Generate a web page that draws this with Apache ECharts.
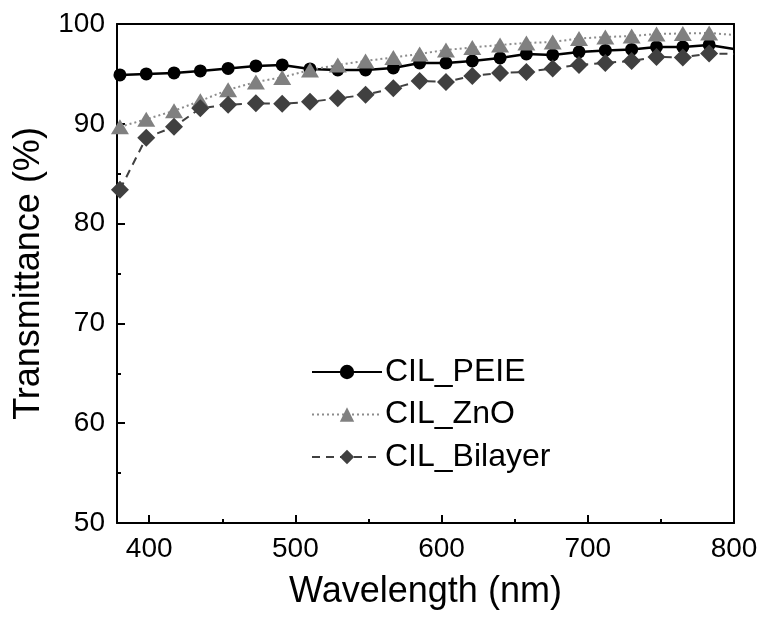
<!DOCTYPE html>
<html>
<head>
<meta charset="utf-8">
<script src="https://cdn.jsdelivr.net/npm/echarts@6/dist/echarts.min.js"></script>
<style>
  html, body { margin: 0; padding: 0; background: #fff; }
  #chart { width: 763px; height: 619px; }
</style>
</head>
<body>
<div id="chart"></div>
<script>
// wavelength of each sample (nm), last one drawn without a marker
var wavelength = [380, 398, 417, 435, 454, 473, 491, 510, 529, 548, 567, 585,
                  603, 621, 640, 658, 676, 694, 712, 730, 747, 765, 783, 800];
var peie    = [94.9, 95.0, 95.1, 95.3, 95.55, 95.8, 95.9, 95.5, 95.4, 95.4, 95.6, 96.1,
               96.1, 96.3, 96.6, 97.0, 96.9, 97.2, 97.35, 97.45, 97.7, 97.7, 97.9, 97.5];
var zno     = [89.7, 90.45, 91.3, 92.3, 93.4, 94.2, 94.65, 95.4, 95.9, 96.3, 96.65, 97.0,
               97.4, 97.65, 97.9, 98.1, 98.2, 98.55, 98.7, 98.8, 99.0, 99.05, 99.1, 98.9];
var bilayer = [83.4, 88.6, 89.7, 91.55, 91.9, 92.05, 92.0, 92.2, 92.55, 92.9, 93.55, 94.3,
               94.2, 94.8, 95.1, 95.2, 95.55, 95.9, 96.1, 96.3, 96.7, 96.65, 97.05, 97.0];
var noMarkerAt = [800];

var xMajor = [400, 500, 600, 700, 800];
var xMinor = [450, 550, 650, 750];

var font = "'Liberation Sans', Arial, sans-serif";

function pairs(ys) {
  var out = [];
  for (var i = 0; i < wavelength.length; i++) {
    var p = { value: [wavelength[i], ys[i]] };
    if (noMarkerAt.indexOf(wavelength[i]) >= 0) p.symbol = 'none';
    out.push(p);
  }
  return out;
}

var myChart = echarts.init(document.getElementById('chart'));

var option = {
  backgroundColor: '#fff',
  animation: false,
  grid: { left: 117, right: 29, top: 24, bottom: 96 },
  legend: {
    left: 306,
    top: 351,
    orient: 'vertical',
    itemWidth: 70,
    itemHeight: 18,
    itemGap: 10.5,
    textStyle: { fontFamily: font, fontSize: 32, color: '#000', padding: [0, 0, 0, -2] },
    data: ['CIL_PEIE', 'CIL_ZnO', 'CIL_Bilayer']
  },
  xAxis: [
    {
      type: 'value', min: 378, max: 800, position: 'bottom',
      name: 'Wavelength (nm)', nameLocation: 'middle', nameGap: 51,
      nameTextStyle: { fontFamily: font, fontSize: 36, color: '#000' },
      axisLine: { lineStyle: { color: '#000', width: 2 } },
      axisTick: { inside: true, length: 8, lineStyle: { color: '#000', width: 2 }, customValues: xMajor },
      axisLabel: { fontFamily: font, fontSize: 28, color: '#000', margin: 12, customValues: xMajor },
      splitLine: { show: false }
    },
    {
      type: 'value', min: 378, max: 800, position: 'bottom',
      axisLine: { show: false },
      axisTick: { inside: true, length: 4, lineStyle: { color: '#000', width: 2 }, customValues: xMinor },
      axisLabel: { show: false },
      splitLine: { show: false }
    },
    {
      type: 'value', min: 378, max: 800, position: 'top',
      axisLine: { lineStyle: { color: '#000', width: 2 } },
      axisTick: { show: false }, axisLabel: { show: false }, splitLine: { show: false }
    }
  ],
  yAxis: [
    {
      type: 'value', min: 50, max: 100, interval: 10, position: 'left',
      name: 'Transmittance (%)', nameLocation: 'middle', nameGap: 69,
      nameTextStyle: { fontFamily: font, fontSize: 36, color: '#000' },
      axisLine: { lineStyle: { color: '#000', width: 2 } },
      axisTick: { inside: true, length: 8, lineStyle: { color: '#000', width: 2 } },
      minorTick: { show: true, splitNumber: 2, length: 4, lineStyle: { color: '#000', width: 2 } },
      axisLabel: { fontFamily: font, fontSize: 28, color: '#000', margin: 12 },
      splitLine: { show: false }
    },
    {
      type: 'value', min: 50, max: 100, position: 'right',
      axisLine: { show: true, lineStyle: { color: '#000', width: 2 } },
      axisTick: { show: false }, axisLabel: { show: false }, splitLine: { show: false }
    }
  ],
  series: [
    {
      name: 'CIL_PEIE', type: 'line', xAxisIndex: 0, yAxisIndex: 0,
      data: pairs(peie),
      symbol: 'circle', symbolSize: 13,
      itemStyle: { color: '#000' },
      lineStyle: { color: '#000', width: 2.5, type: 'solid' }
    },
    {
      name: 'CIL_ZnO', type: 'line', xAxisIndex: 0, yAxisIndex: 0,
      data: pairs(zno),
      symbol: 'triangle', symbolSize: [18, 15],
      itemStyle: { color: '#808080' },
      lineStyle: { color: '#8c8c8c', width: 2, type: [2, 3] }
    },
    {
      name: 'CIL_Bilayer', type: 'line', xAxisIndex: 0, yAxisIndex: 0,
      data: pairs(bilayer),
      symbol: 'diamond', symbolSize: 18,
      itemStyle: { color: '#404040' },
      lineStyle: { color: '#404040', width: 2, type: [8, 6] }
    }
  ]
};

myChart.setOption(option);
</script>
</body>
</html>
